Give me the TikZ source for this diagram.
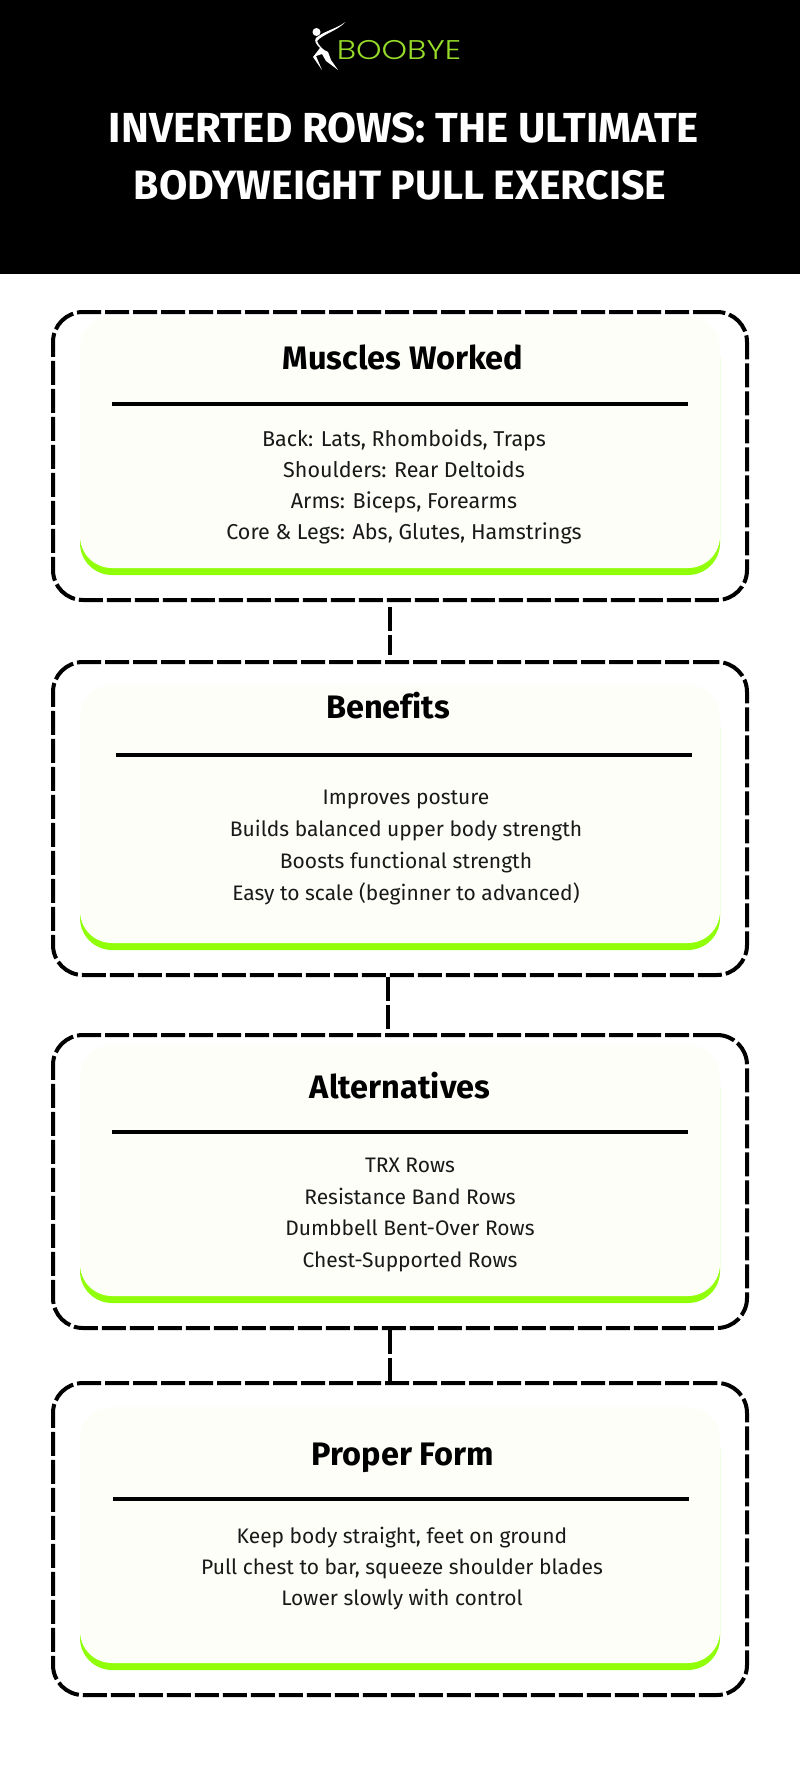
\documentclass[tikz,border=0pt]{standalone}
\usepackage{fontspec}
\setmainfont[Ligatures=NoCommon]{Fira Sans}
\newfontfamily\logofont[FakeStretch=1.2]{Poppins Light}
\usetikzlibrary{positioning}
\definecolor{cardCream}{RGB}{253, 254, 248}
\definecolor{cardGreen}{RGB}{146, 255, 10}
\definecolor{logoGreen}{RGB}{150, 220, 40}
\tikzset{
    framebox/.style={draw=black, line width=4pt, dash pattern=on 24pt off 4pt, rounded corners=30pt, minimum width=694pt},
    linkline/.style={draw=black, line width=4pt, dash pattern=on 24pt off 4pt},
    headrule/.style={draw=black, line width=4pt},
    headtext/.style={font=\fontsize{32.5}{36}\selectfont\bfseries, text height=22pt, text depth=0pt},
    titletext/.style={text=white, font=\fontsize{#1}{44}\selectfont\bfseries},
    bodytext/.style={font=\fontsize{21}{31.4}\selectfont, align=center, text=black!90}
}
\newcommand{\greencard}[2]{%
    \fill[cardGreen, rounded corners=32pt] (80,{#1+10}) rectangle (720,#2);
    \fill[cardCream, rounded corners=32pt] (80,#1) rectangle (720,{#2-7});
}
\begin{document}
\begin{tikzpicture}[x=1pt, y=-1pt]
    \useasboundingbox (0,0) rectangle (800,1780);
    \fill[white] (0,0) rectangle (800,1780);
    \fill[black] (0,0) rectangle (800,274);

    % logo
    \fill[white] (345.5,22) .. controls (337,31) and (323,34) .. (317,41) .. controls (319,46) and (323,50) .. (328,52) -- (331,60) -- (338,70) -- (326,61) -- (322,54) -- (316,56) -- (322,70) -- (313,57) -- (320,48) .. controls (316,44) and (314,41) .. (316,38) .. controls (324,31) and (336,29) .. cycle;
    \draw[black, line width=0.8pt] (340,29) .. controls (332,34) and (324,38) .. (321,42) .. controls (323,45) and (325,47) .. (328,48);
    \fill[white] (316.5,32) circle (4);
    \node[font=\logofont\fontsize{27}{32}\selectfont, text=logoGreen] (logo) at (399,50) {BOOBYE};

    % title
    \node[titletext=42] (titleA) at (404,128) {INVERTED ROWS: THE ULTIMATE};
    \node[titletext=41] (titleB) at (400,185) {BODYWEIGHT PULL EXERCISE};

    % cards
    \greencard{316}{575}
    \greencard{685}{950}
    \greencard{1045}{1303}
    \greencard{1407}{1670}

    % frames
    \node[framebox, minimum height=288pt] (muscles) at (400,456) {};
    \node[framebox, minimum height=313pt] (benefits) at (400,818.5) {};
    \node[framebox, minimum height=293pt] (alternatives) at (400,1181.5) {};
    \node[framebox, minimum height=312pt] (form) at (400,1539) {};

    % links
    \draw[linkline, shorten >=5pt, shorten <=5pt] ([xshift=-10pt]muscles.south) -- ([xshift=-10pt]benefits.north);
    \draw[linkline] ([xshift=-12pt]benefits.south) -- ([xshift=-12pt]alternatives.north);
    \draw[linkline] ([xshift=-10pt]alternatives.south) -- ([xshift=-10pt]form.north);

    % headings
    \node[headtext] (musclesHead) at (403,358) {Muscles Worked};
    \node[headtext] (benefitsHead) at (388,707) {Benefits};
    \node[headtext] (alternativesHead) at (400,1087) {Alternatives};
    \node[headtext] (formHead) at (403,1454.5) {Proper Form};

    \draw[headrule] (112,404) -- (688,404);
    \draw[headrule] (116,755) -- (692,755);
    \draw[headrule] (112,1131.5) -- (688,1131.5);
    \draw[headrule] (113,1499) -- (689,1499);

    % lists
    \node[bodytext, font=\fontsize{21.5}{31.2}\selectfont] (musclesList) at (404,487) {Back: Lats, Rhomboids, Traps\\Shoulders: Rear Deltoids\\Arms: Biceps, Forearms\\Core \& Legs: Abs, Glutes, Hamstrings};
    \node[bodytext, font=\fontsize{21}{31.8}\selectfont] (benefitsList) at (406,847.5) {Improves posture\\Builds balanced upper body strength\\Boosts functional strength\\Easy to scale (beginner to advanced)};
    \node[bodytext] (alternativesList) at (410,1215) {TRX Rows\\Resistance Band Rows\\Dumbbell Bent-Over Rows\\Chest-Supported Rows};
    \node[bodytext] (formList) at (402,1568.5) {Keep body straight, feet on ground\\Pull chest to bar, squeeze shoulder blades\\Lower slowly with control};
\end{tikzpicture}
\end{document}
